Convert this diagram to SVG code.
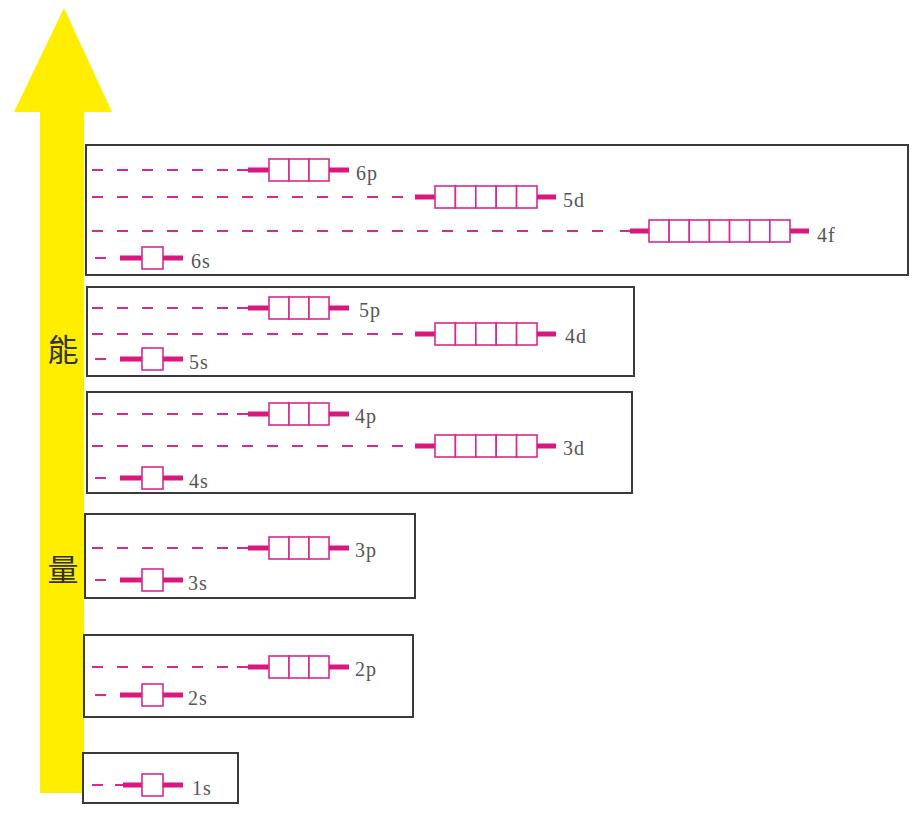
<svg xmlns="http://www.w3.org/2000/svg" width="924" height="818" viewBox="0 0 924 818">
<style>
.frame{fill:none;stroke:#3a3a3a;stroke-width:2}
.dash{stroke:#d82a8e;stroke-width:2;stroke-dasharray:11 14;fill:none}
.thin{stroke:#d82a8e;stroke-width:2}
.thick{stroke:#d9177f;stroke-width:5}
.cell{fill:#fff;stroke:#d82a8e;stroke-width:1.6}
.lbl{font-family:"Liberation Serif","Times New Roman",serif;font-size:20px;fill:#555;letter-spacing:1px}
.cjk{font-family:"Noto Sans CJK TC","Noto Sans CJK SC",sans-serif;font-size:31px;fill:#333;text-anchor:middle}
</style>
<rect width="924" height="818" fill="#fff"/>
<g id="energy-arrow">
<polygon points="64,8 112,112 84,112 84,793 40,793 40,112 14,112" fill="#ffee00"/>
<text class="cjk" x="63" y="361">能</text>
<text class="cjk" x="63" y="581">量</text>
</g>
<g id="frames">
<rect id="shell6" class="frame" x="86" y="145" width="822" height="130"/>
<rect id="shell5" class="frame" x="87" y="287" width="547" height="89"/>
<rect id="shell4" class="frame" x="87" y="392" width="545" height="101"/>
<rect id="shell3" class="frame" x="85" y="514" width="330" height="84"/>
<rect id="shell2" class="frame" x="84" y="635" width="329" height="82"/>
<rect id="shell1" class="frame" x="83" y="753" width="155" height="50"/>
</g>
<g id="connectors">
<line class="dash" x1="92" y1="170" x2="237" y2="170"/>
<line class="dash" x1="92" y1="197" x2="404" y2="197"/>
<line class="dash" x1="92" y1="231" x2="614" y2="231"/>
<line class="dash" x1="95" y1="258" x2="107" y2="258"/>
<line class="dash" x1="92" y1="308" x2="237" y2="308"/>
<line class="dash" x1="92" y1="334" x2="404" y2="334"/>
<line class="dash" x1="95" y1="359" x2="107" y2="359"/>
<line class="dash" x1="92" y1="414" x2="237" y2="414"/>
<line class="dash" x1="92" y1="446" x2="404" y2="446"/>
<line class="dash" x1="95" y1="478" x2="107" y2="478"/>
<line class="dash" x1="92" y1="548" x2="237" y2="548"/>
<line class="dash" x1="95" y1="580" x2="107" y2="580"/>
<line class="dash" x1="92" y1="667" x2="237" y2="667"/>
<line class="dash" x1="95" y1="695" x2="107" y2="695"/>
<line class="dash" x1="92" y1="785" x2="103" y2="785"/>
</g>
<g id="o6p">
<line class="thin" x1="237" y1="170" x2="248" y2="170"/><line class="thick" x1="248" y1="170" x2="269" y2="170"/>
<rect class="cell" x="269" y="159" width="20" height="22"/><rect class="cell" x="289" y="159" width="20" height="22"/><rect class="cell" x="309" y="159" width="20" height="22"/>
<line class="thick" x1="329" y1="170" x2="349" y2="170"/>
<text class="lbl" x="356" y="180">6p</text>
</g>
<g id="o5d">
<line class="thick" x1="415" y1="197" x2="435" y2="197"/>
<rect class="cell" x="435" y="186" width="20.4" height="22"/><rect class="cell" x="455.4" y="186" width="20.4" height="22"/><rect class="cell" x="475.8" y="186" width="20.4" height="22"/><rect class="cell" x="496.2" y="186" width="20.4" height="22"/><rect class="cell" x="516.6" y="186" width="20.4" height="22"/>
<line class="thick" x1="537" y1="197" x2="556" y2="197"/>
<text class="lbl" x="563" y="207">5d</text>
</g>
<g id="o4f">
<line class="thin" x1="620" y1="231" x2="630" y2="231"/><line class="thick" x1="630" y1="231" x2="649" y2="231"/>
<rect class="cell" x="649" y="220" width="20.14" height="22"/><rect class="cell" x="669.14" y="220" width="20.14" height="22"/><rect class="cell" x="689.28" y="220" width="20.14" height="22"/><rect class="cell" x="709.42" y="220" width="20.14" height="22"/><rect class="cell" x="729.56" y="220" width="20.14" height="22"/><rect class="cell" x="749.7" y="220" width="20.14" height="22"/><rect class="cell" x="769.84" y="220" width="20.16" height="22"/>
<line class="thick" x1="790" y1="231" x2="809" y2="231"/>
<text class="lbl" x="817" y="242">4f</text>
</g>
<g id="o6s">
<line class="thick" x1="120" y1="258" x2="142" y2="258"/>
<rect class="cell" x="142" y="247" width="21" height="22"/>
<line class="thick" x1="163" y1="258" x2="183" y2="258"/>
<text class="lbl" x="191" y="268">6s</text>
</g>
<g id="o5p">
<line class="thin" x1="237" y1="308" x2="248" y2="308"/><line class="thick" x1="248" y1="308" x2="269" y2="308"/>
<rect class="cell" x="269" y="297" width="20" height="22"/><rect class="cell" x="289" y="297" width="20" height="22"/><rect class="cell" x="309" y="297" width="20" height="22"/>
<line class="thick" x1="329" y1="308" x2="349" y2="308"/>
<text class="lbl" x="359" y="317">5p</text>
</g>
<g id="o4d">
<line class="thick" x1="415" y1="334" x2="435" y2="334"/>
<rect class="cell" x="435" y="323" width="20.4" height="22"/><rect class="cell" x="455.4" y="323" width="20.4" height="22"/><rect class="cell" x="475.8" y="323" width="20.4" height="22"/><rect class="cell" x="496.2" y="323" width="20.4" height="22"/><rect class="cell" x="516.6" y="323" width="20.4" height="22"/>
<line class="thick" x1="537" y1="334" x2="556" y2="334"/>
<text class="lbl" x="565" y="343">4d</text>
</g>
<g id="o5s">
<line class="thick" x1="120" y1="359" x2="142" y2="359"/>
<rect class="cell" x="142" y="348" width="21" height="22"/>
<line class="thick" x1="163" y1="359" x2="183" y2="359"/>
<text class="lbl" x="189" y="369">5s</text>
</g>
<g id="o4p">
<line class="thin" x1="237" y1="414" x2="248" y2="414"/><line class="thick" x1="248" y1="414" x2="269" y2="414"/>
<rect class="cell" x="269" y="403" width="20" height="22"/><rect class="cell" x="289" y="403" width="20" height="22"/><rect class="cell" x="309" y="403" width="20" height="22"/>
<line class="thick" x1="329" y1="414" x2="349" y2="414"/>
<text class="lbl" x="355" y="423">4p</text>
</g>
<g id="o3d">
<line class="thick" x1="415" y1="446" x2="435" y2="446"/>
<rect class="cell" x="435" y="435" width="20.4" height="22"/><rect class="cell" x="455.4" y="435" width="20.4" height="22"/><rect class="cell" x="475.8" y="435" width="20.4" height="22"/><rect class="cell" x="496.2" y="435" width="20.4" height="22"/><rect class="cell" x="516.6" y="435" width="20.4" height="22"/>
<line class="thick" x1="537" y1="446" x2="556" y2="446"/>
<text class="lbl" x="563" y="455">3d</text>
</g>
<g id="o4s">
<line class="thick" x1="120" y1="478" x2="142" y2="478"/>
<rect class="cell" x="142" y="467" width="21" height="22"/>
<line class="thick" x1="163" y1="478" x2="183" y2="478"/>
<text class="lbl" x="189" y="488">4s</text>
</g>
<g id="o3p">
<line class="thin" x1="237" y1="548" x2="248" y2="548"/><line class="thick" x1="248" y1="548" x2="269" y2="548"/>
<rect class="cell" x="269" y="537" width="20" height="22"/><rect class="cell" x="289" y="537" width="20" height="22"/><rect class="cell" x="309" y="537" width="20" height="22"/>
<line class="thick" x1="329" y1="548" x2="349" y2="548"/>
<text class="lbl" x="355" y="557">3p</text>
</g>
<g id="o3s">
<line class="thick" x1="120" y1="580" x2="142" y2="580"/>
<rect class="cell" x="142" y="569" width="21" height="22"/>
<line class="thick" x1="163" y1="580" x2="183" y2="580"/>
<text class="lbl" x="188" y="590">3s</text>
</g>
<g id="o2p">
<line class="thin" x1="237" y1="667" x2="248" y2="667"/><line class="thick" x1="248" y1="667" x2="269" y2="667"/>
<rect class="cell" x="269" y="656" width="20" height="22"/><rect class="cell" x="289" y="656" width="20" height="22"/><rect class="cell" x="309" y="656" width="20" height="22"/>
<line class="thick" x1="329" y1="667" x2="349" y2="667"/>
<text class="lbl" x="355" y="676">2p</text>
</g>
<g id="o2s">
<line class="thick" x1="120" y1="695" x2="142" y2="695"/>
<rect class="cell" x="142" y="684" width="21" height="22"/>
<line class="thick" x1="163" y1="695" x2="183" y2="695"/>
<text class="lbl" x="188" y="705">2s</text>
</g>
<g id="o1s">
<line class="thin" x1="115" y1="785" x2="123" y2="785"/><line class="thick" x1="123" y1="785" x2="142" y2="785"/>
<rect class="cell" x="142" y="774" width="21" height="22"/>
<line class="thick" x1="163" y1="785" x2="183" y2="785"/>
<text class="lbl" x="192" y="795">1s</text>
</g>
</svg>
